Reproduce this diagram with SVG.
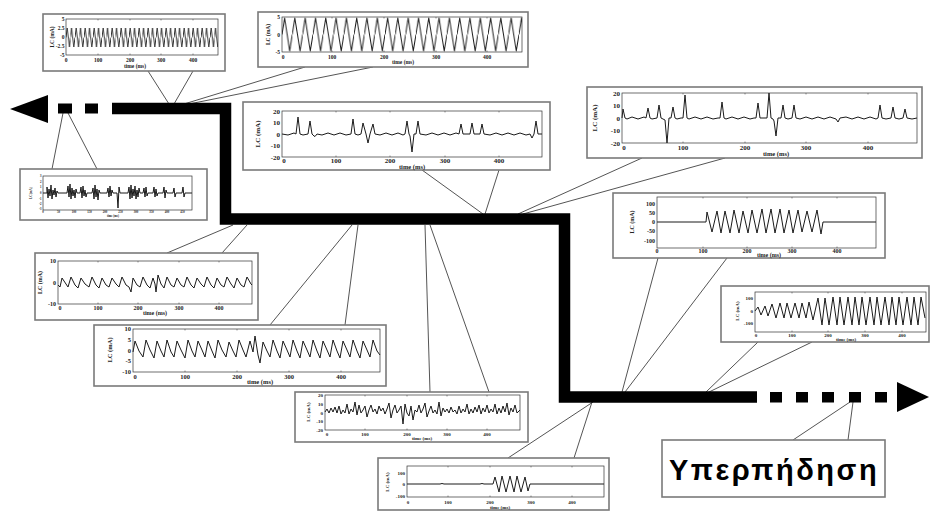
<svg xmlns="http://www.w3.org/2000/svg" width="930" height="511" viewBox="0 0 930 511">
<style>
.box{fill:#fff;stroke:#7a7a7a;stroke-width:1.6}
.ax{fill:none;stroke:#333;stroke-width:0.7}
.tk{fill:none;stroke:#333;stroke-width:0.5}
.sig{fill:none;stroke:#1a1a1a;stroke-width:1;stroke-linejoin:round}
.t{font-family:"Liberation Serif",serif;font-weight:bold;fill:#222}
.e{text-anchor:end}
.m{text-anchor:middle}
.c{stroke:#555;stroke-width:1;fill:none}
.bar{stroke:#000;stroke-width:11.5;fill:none;stroke-linejoin:miter}
.lbl{font-family:"Liberation Sans",Arial,sans-serif;font-weight:bold;font-size:29px;fill:#000;letter-spacing:2.5px}
</style>
<defs>
<pattern id="w1" patternUnits="userSpaceOnUse" x="66" y="19" width="4.5" height="36"><path d="M0,18.5 L1.125,9 L3.375,28 L4.5,18.5" fill="none" stroke="#1a1a1a" stroke-width="0.9" stroke-linejoin="round"/></pattern>
<pattern id="w2" patternUnits="userSpaceOnUse" x="282" y="17" width="10.3" height="35"><path d="M0,17.5 L2.575,1 L7.725,34 L10.3,17.5" fill="none" stroke="#1a1a1a" stroke-width="1" stroke-linejoin="round"/></pattern>
</defs>

<g id="connectors">
<path class="c" d="M148,71 L169,104 M193,71 L174,104"/>
<path class="c" d="M305,67 L184,104 M373,67 L189,104"/>
<path class="c" d="M422,170 L483,214 M499,170 L485,214"/>
<path class="c" d="M642,158 L518,214 M725,158 L523,214"/>
<path class="c" d="M52,169 L63,113 M97,169 L68,113"/>
<path class="c" d="M167,253 L233,225 M222,253 L247,225"/>
<path class="c" d="M270,325 L352,225 M345,325 L358,225"/>
<path class="c" d="M430,392 L425,225 M489,392 L430,225"/>
<path class="c" d="M508,458 L593,402 M574,458 L592,402"/>
<path class="c" d="M658,258 L622,392 M727,258 L625,392"/>
<path class="c" d="M758,342 L706,392 M812,342 L709,392"/>
<path class="c" d="M793,440 L850,402 M848,440 L853,402"/>
</g>

<g id="timeline">
<path class="bar" d="M112,108.5 H225.5 V219 H564.5 V397 H757"/>
<polygon points="10,109 48,95 48,123" fill="#000"/>
<rect x="58" y="103.5" width="14" height="10" fill="#000"/>
<rect x="85" y="103.5" width="13" height="10" fill="#000"/>
<rect x="770" y="392" width="12" height="10.5" fill="#000"/>
<rect x="796" y="392" width="12" height="10.5" fill="#000"/>
<rect x="822" y="392" width="12" height="10.5" fill="#000"/>
<rect x="849" y="392" width="12" height="10.5" fill="#000"/>
<rect x="875" y="392" width="12" height="10.5" fill="#000"/>
<polygon points="897,382 929,397 897,412" fill="#000"/>
</g>

<g id="plot1">
<rect class="box" x="43" y="14" width="182" height="57"/>
<rect x="66" y="19" width="152" height="36" fill="url(#w1)"/>
<rect class="ax" x="66" y="19" width="152" height="36"/>
<path class="tk" d="M98,55v-1.5M130,55v-1.5M161,55v-1.5M193,55v-1.5M98,19v1.5M130,19v1.5M161,19v1.5M193,19v1.5"/>
<g class="t" font-size="5.5">
<text class="e" x="64.5" y="21">5</text><text class="e" x="64.5" y="30">2.5</text><text class="e" x="64.5" y="39">0</text><text class="e" x="64.5" y="48">-2.5</text><text class="e" x="64.5" y="57">-5</text>
<text class="m" x="66" y="62">0</text><text class="m" x="98" y="62">100</text><text class="m" x="130" y="62">200</text><text class="m" x="161" y="62">300</text><text class="m" x="193" y="62">400</text>
<text class="m" x="135" y="67.5">time (ms)</text>
<text class="m" transform="translate(54,37) rotate(-90)">LC (mA)</text>
</g>
</g>

<g id="plot2">
<rect class="box" x="258" y="12" width="270" height="55"/>
<rect x="282" y="17" width="240" height="35" fill="url(#w2)"/>
<rect class="ax" x="282" y="17" width="240" height="35"/>
<path class="tk" d="M332,52v-1.5M384,52v-1.5M436,52v-1.5M487,52v-1.5M332,17v1.5M384,17v1.5M436,17v1.5M487,17v1.5"/>
<g class="t" font-size="5.5">
<text class="e" x="280" y="19">5</text><text class="e" x="280" y="36.5">0</text><text class="e" x="280" y="54">-5</text>
<text class="m" x="283" y="59">0</text><text class="m" x="332" y="59">100</text><text class="m" x="384" y="59">200</text><text class="m" x="436" y="59">300</text><text class="m" x="487" y="59">400</text>
<text class="m" x="403" y="64">time (ms)</text>
<text class="m" transform="translate(270,34.5) rotate(-90)">LC (mA)</text>
</g>
</g>

<g id="plot3">
<rect class="box" x="243" y="102" width="307" height="68"/>
<path class="sig" d="M282,134 L288,135 L294,133 L296,134 L298,117 L300,134 L303,135 L308,134 L310,121 L312,134 L314,136 L315,136.5 L317,134 L322,135 L328,133 L334,135 L340,133 L346,135 L351,134 L353,119 L355,134 L358,135 L361,134 L363,123 L366,134 L368,143 L370,134 L373,124 L375,134 L380,135 L386,133 L392,135 L398,133 L403,135 L405,134 L407,121 L409,134 L410,136 L412,152 L414,134 L416,134 L418,121 L420,134 L426,135 L432,133 L438,135 L444,133 L450,135 L456,133 L459,134 L461,124 L463,134 L470,134 L472,123 L474,134 L480,134 L482,124 L484,134 L490,135 L496,133 L502,135 L508,133 L514,135 L520,133 L526,135 L530,134 L532,138 L534,134 L536,121 L538,134 L542,134"/>
<rect class="ax" x="282" y="111" width="260" height="46"/>
<path class="tk" d="M336,157v-1.5M390,157v-1.5M445,157v-1.5M499,157v-1.5M336,111v1.5M390,111v1.5M445,111v1.5M499,111v1.5"/>
<g class="t" font-size="7">
<text class="e" x="280" y="113.5">20</text><text class="e" x="280" y="125">10</text><text class="e" x="280" y="136.5">0</text><text class="e" x="280" y="148">-10</text><text class="e" x="280" y="159.5">-20</text>
<text class="m" x="284" y="162.5">0</text><text class="m" x="336" y="162.5">100</text><text class="m" x="390" y="162.5">200</text><text class="m" x="445" y="162.5">300</text><text class="m" x="499" y="162.5">400</text>
<text class="m" x="412" y="168.5" font-size="6.5">time (ms)</text>
<text class="m" transform="translate(260,134) rotate(-90)">LC (mA)</text>
</g>
</g>

<g id="plot4">
<rect class="box" x="587" y="87" width="335" height="71"/>
<path class="sig" d="M622,118 L623,109 L625,118 L627,119 L632,117 L638,119 L644,117 L646,118 L648,108 L650,118 L652,119 L657,118 L659,105 L661,118 L663,119 L665,120 L667,143 L669,118 L671,118 L673,107 L675,118 L677,119 L681,118 L683,118 L685,95 L687,118 L689,119 L695,117 L701,119 L707,117 L713,119 L718,118 L720,118 L722,102 L724,118 L726,119 L732,117 L738,119 L744,117 L750,119 L754,118 L756,118 L758,103 L760,118 L762,118 L767,118 L769,93 L771,118 L773,119 L774,121 L776,136 L778,118 L781,118 L783,105 L785,118 L788,119 L792,118 L794,105 L796,118 L800,119 L806,117 L812,119 L818,117 L824,119 L830,117 L836,119 L838,122 L840,118 L846,117 L852,119 L858,117 L864,119 L870,117 L876,119 L878,118 L880,105 L882,118 L886,119 L891,118 L893,107 L895,118 L899,119 L903,118 L905,109 L907,118 L912,119 L917,118"/>
<rect class="ax" x="622" y="93" width="295" height="50"/>
<path class="tk" d="M683,143v-1.5M745,143v-1.5M806,143v-1.5M868,143v-1.5M683,93v1.5M745,93v1.5M806,93v1.5M868,93v1.5"/>
<g class="t" font-size="7">
<text class="e" x="620" y="95.5">20</text><text class="e" x="620" y="108">10</text><text class="e" x="620" y="120.5">0</text><text class="e" x="620" y="133">-10</text><text class="e" x="620" y="145.5">-20</text>
<text class="m" x="624" y="150">0</text><text class="m" x="683" y="150">100</text><text class="m" x="745" y="150">200</text><text class="m" x="806" y="150">300</text><text class="m" x="868" y="150">400</text>
<text class="m" x="776" y="156" font-size="6.5">time (ms)</text>
<text class="m" transform="translate(597,118) rotate(-90)">LC (mA)</text>
</g>
</g>

<g id="plot5">
<rect class="box" x="20" y="169" width="187" height="51"/>
<path class="sig" stroke-width="1.2" d="M43,193 L47,193 L47,187 L48,198 L49,189 L50,196 L51,185 L52,199 L53,190 L54,195 L55,188 L56,197 L57,191 L58,193 L67,193 L68,186 L69,197 L70,184 L71,199 L72,188 L73,196 L74,190 L75,198 L76,189 L77,193 L80,193 L81,187 L82,198 L83,186 L84,196 L85,190 L86,197 L87,193 L92,193 L93,188 L94,199 L95,185 L96,197 L97,189 L98,200 L99,190 L100,193 L107,193 L108,188 L109,197 L110,186 L111,196 L112,190 L113,193 L117,193 L118,208 L119,187 L120,193 L128,193 L129,187 L130,199 L131,185 L132,198 L133,189 L134,196 L135,186 L136,199 L137,190 L138,197 L139,188 L140,193 L143,193 L144,188 L145,197 L146,187 L147,196 L148,193 L153,193 L154,187 L155,197 L156,189 L157,196 L158,193 L163,193 L164,187 L165,198 L166,190 L167,193 L173,193 L174,188 L175,197 L176,193 L182,193 L183,187 L184,197 L185,193 L192,193"/>
<rect class="ax" x="43" y="176" width="149" height="34"/>
<g class="t" font-size="3">
<text class="e" x="41.5" y="177">3</text><text class="e" x="41.5" y="182.5">2</text><text class="e" x="41.5" y="188">1</text><text class="e" x="41.5" y="194">0</text><text class="e" x="41.5" y="199.5">-1</text><text class="e" x="41.5" y="205">-2</text><text class="e" x="41.5" y="210">-3</text>
<text class="m" x="43" y="213">0</text><text class="m" x="58.5" y="213">50</text><text class="m" x="74" y="213">100</text><text class="m" x="89.5" y="213">150</text><text class="m" x="105" y="213">200</text><text class="m" x="120.5" y="213">250</text><text class="m" x="136" y="213">300</text><text class="m" x="151.5" y="213">350</text><text class="m" x="167" y="213">400</text><text class="m" x="182.5" y="213">450</text>
<text class="m" x="113" y="216.5">time (ms)</text>
<text class="m" transform="translate(32,193) rotate(-90)">LC (mA)</text>
</g>
</g>

<g id="plot6">
<rect class="box" x="35" y="253" width="223" height="67"/>
<path class="sig" d="M58,285 L60,287 L62,278 L66,284 L68,287 L71,277 L75,285 L78,288 L81,278 L85,284 L89,287 L92,277 L96,285 L99,288 L102,278 L106,285 L109,287 L112,278 L116,284 L119,287 L122,277 L126,285 L129,287 L131,292 L133,278 L137,285 L140,287 L143,277 L147,285 L150,288 L153,278 L155,284 L156,292 L158,275 L161,284 L164,288 L167,277 L171,285 L174,287 L177,278 L181,285 L184,287 L187,277 L191,285 L194,288 L197,278 L201,284 L204,287 L207,277 L211,285 L214,288 L217,278 L221,285 L224,287 L227,277 L231,284 L234,288 L237,278 L241,285 L244,287 L247,277 L251,284 L252,285"/>
<rect class="ax" x="58" y="261" width="194" height="43"/>
<path class="tk" d="M98,304v-1.5M138,304v-1.5M179,304v-1.5M219,304v-1.5M98,261v1.5M138,261v1.5M179,261v1.5M219,261v1.5"/>
<g class="t" font-size="6">
<text class="e" x="56" y="263">10</text><text class="e" x="56" y="284.5">0</text><text class="e" x="56" y="306">-10</text>
<text class="m" x="60" y="310">0</text><text class="m" x="98" y="310">100</text><text class="m" x="138" y="310">200</text><text class="m" x="179" y="310">300</text><text class="m" x="219" y="310">400</text>
<text class="m" x="155" y="315">time (ms)</text>
<text class="m" transform="translate(42,282.5) rotate(-90)">LC (mA)</text>
</g>
</g>

<g id="plot7">
<rect class="box" x="94" y="325" width="292" height="61"/>
<path class="sig" d="M133,352 L135,341 L139,351 L143,357 L146,340 L150,350 L154,358 L157,341 L161,351 L164,357 L167,340 L171,352 L174,357 L177,341 L181,350 L185,358 L188,340 L192,351 L195,357 L198,341 L202,350 L205,357 L208,341 L212,351 L215,358 L218,340 L222,350 L226,357 L229,342 L233,351 L236,357 L239,340 L243,350 L246,357 L250,341 L253,352 L255,336 L258,355 L260,363 L263,342 L267,351 L270,357 L273,340 L277,351 L280,358 L283,341 L287,350 L290,357 L293,340 L297,351 L300,358 L303,341 L307,350 L310,357 L313,340 L317,351 L320,358 L323,341 L327,350 L330,357 L333,340 L337,351 L340,358 L343,341 L347,350 L350,357 L353,340 L357,351 L360,358 L363,341 L367,350 L370,357 L373,340 L377,351 L380,355"/>
<rect class="ax" x="133" y="329" width="247" height="43"/>
<path class="tk" d="M185,372v-1.5M237,372v-1.5M289,372v-1.5M341,372v-1.5M185,329v1.5M237,329v1.5M289,329v1.5M341,329v1.5"/>
<g class="t" font-size="6.5">
<text class="e" x="131" y="331">10</text><text class="e" x="131" y="342">5</text><text class="e" x="131" y="352.5">0</text><text class="e" x="131" y="363">-5</text><text class="e" x="131" y="374">-10</text>
<text class="m" x="135" y="378.5">0</text><text class="m" x="185" y="378.5">100</text><text class="m" x="237" y="378.5">200</text><text class="m" x="289" y="378.5">300</text><text class="m" x="341" y="378.5">400</text>
<text class="m" x="260" y="383.5">time (ms)</text>
<text class="m" transform="translate(112,350) rotate(-90)">LC (mA)</text>
</g>
</g>

<g id="plot8">
<rect class="box" x="295" y="392" width="233" height="50"/>
<path class="sig" d="M325,412 L327,409 L329,413 L331,408 L333,412 L335,407 L337,413 L339,406 L341,414 L343,410 L345,413 L347,404 L349,414 L351,409 L353,412 L355,402 L357,415 L359,405 L361,413 L363,410 L365,406 L367,417 L369,410 L371,405 L373,412 L375,409 L377,414 L379,406 L381,411 L383,408 L385,414 L387,409 L389,403 L391,418 L393,410 L395,405 L397,413 L399,410 L401,406 L403,424 L405,404 L407,413 L409,416 L411,406 L413,420 L415,410 L417,412 L419,405 L421,413 L423,409 L425,403 L427,417 L429,411 L431,406 L433,413 L435,410 L437,414 L439,402 L441,416 L443,408 L445,412 L447,409 L449,413 L451,407 L453,412 L455,410 L457,414 L459,406 L461,413 L463,409 L465,412 L467,404 L469,414 L471,409 L473,413 L475,407 L477,412 L479,405 L481,414 L483,408 L485,412 L487,405 L489,413 L491,409 L493,412 L495,404 L497,414 L499,408 L501,413 L503,406 L505,412 L507,403 L509,415 L511,408 L513,412 L515,405 L517,413 L520,410"/>
<rect class="ax" x="325" y="395" width="195" height="35"/>
<path class="tk" d="M365,430v-1.5M407,430v-1.5M447,430v-1.5M487,430v-1.5M365,395v1.5M407,395v1.5M447,395v1.5M487,395v1.5"/>
<g class="t" font-size="5">
<text class="e" x="323" y="397">20</text><text class="e" x="323" y="406">10</text><text class="e" x="323" y="414.5">0</text><text class="e" x="323" y="423">-10</text><text class="e" x="323" y="432">-20</text>
<text class="m" x="327" y="435.5">0</text><text class="m" x="365" y="435.5">100</text><text class="m" x="407" y="435.5">200</text><text class="m" x="447" y="435.5">300</text><text class="m" x="487" y="435.5">400</text>
<text class="m" x="422" y="440">time (ms)</text>
<text class="m" transform="translate(310,412) rotate(-90)">LC (mA)</text>
</g>
</g>

<g id="plot9">
<rect class="box" x="378" y="458" width="231" height="52"/>
<path class="sig" d="M407,484 L440,484 L442,483.5 L444,484 L480,484 L482,483.5 L484,484 L493,484 L495,477 L499,492 L502,476 L506,492 L510,476 L514,492 L517,476 L521,492 L525,477 L528,491 L530,484 L604,484"/>
<rect class="ax" x="407" y="466" width="197" height="31"/>
<path class="tk" d="M448,497v-1.5M490,497v-1.5M531,497v-1.5M572,497v-1.5M448,466v1.5M490,466v1.5M531,466v1.5M572,466v1.5"/>
<g class="t" font-size="5">
<text class="e" x="405" y="474.5">100</text><text class="e" x="405" y="486">0</text><text class="e" x="405" y="497.5">-100</text>
<text class="m" x="408" y="504">0</text><text class="m" x="448" y="504">100</text><text class="m" x="490" y="504">200</text><text class="m" x="531" y="504">300</text><text class="m" x="572" y="504">400</text>
<text class="m" x="500" y="508.5">time (ms)</text>
<text class="m" transform="translate(389,482) rotate(-90)">LC (mA)</text>
</g>
</g>

<g id="plot10">
<rect class="box" x="613" y="193" width="272" height="65"/>
<path class="sig" d="M657,222 L706,222 L707,212 L712,232 L717,211 L721,233 L725,211 L730,233 L734,210 L739,233 L743,211 L748,233 L752,210 L757,233 L762,209 L766,233 L771,209 L775,233 L780,209 L784,233 L789,210 L793,233 L798,210 L802,232 L807,211 L812,232 L817,210 L821,234 L823,222 L876,222"/>
<rect class="ax" x="657" y="197" width="219" height="51"/>
<path class="tk" d="M703,248v-1.5M747,248v-1.5M792,248v-1.5M837,248v-1.5M703,197v1.5M747,197v1.5M792,197v1.5M837,197v1.5"/>
<g class="t" font-size="6">
<text class="e" x="655" y="206">100</text><text class="e" x="655" y="215">50</text><text class="e" x="655" y="224">0</text><text class="e" x="655" y="233">-50</text><text class="e" x="655" y="243">-100</text>
<text class="m" x="657" y="253">0</text><text class="m" x="703" y="253">100</text><text class="m" x="747" y="253">200</text><text class="m" x="792" y="253">300</text><text class="m" x="837" y="253">400</text>
<text class="m" x="769" y="257">time (ms)</text>
<text class="m" transform="translate(634,222) rotate(-90)">LC (mA)</text>
</g>
</g>

<g id="plot11">
<rect class="box" x="721" y="286" width="208" height="56"/>
<path class="sig" d="M755,311 L758,307 L761,315 L765,306 L768,316 L772,304 L776,318 L780,303 L784,318 L787,303 L791,318 L795,303 L799,318 L802,303 L806,318 L809,302 L813,320 L818,298 L822,325 L825,298 L829,325 L833,297 L837,325 L840,297 L844,325 L848,297 L852,325 L855,297 L859,325 L862,297 L866,325 L870,297 L874,325 L877,297 L881,325 L885,297 L889,325 L892,297 L896,325 L899,297 L903,325 L907,297 L911,325 L914,297 L918,325 L921,297 L925,318"/>
<rect class="ax" x="755" y="292" width="171" height="40"/>
<path class="tk" d="M792,332v-1.5M828,332v-1.5M865,332v-1.5M902,332v-1.5M792,292v1.5M828,292v1.5M865,292v1.5M902,292v1.5"/>
<g class="t" font-size="5">
<text class="e" x="753" y="300">100</text><text class="e" x="753" y="313">0</text><text class="e" x="753" y="325">-100</text>
<text class="m" x="756" y="336.5">0</text><text class="m" x="792" y="336.5">100</text><text class="m" x="828" y="336.5">200</text><text class="m" x="865" y="336.5">300</text><text class="m" x="902" y="336.5">400</text>
<text class="m" x="846" y="340.5">time (ms)</text>
<text class="m" transform="translate(739,311) rotate(-90)">LC (mA)</text>
</g>
</g>

<g id="label">
<rect class="box" x="662" y="440" width="223" height="57"/>
<text class="lbl" x="774" y="480" text-anchor="middle">Υπερπήδηση</text>
</g>
</svg>
